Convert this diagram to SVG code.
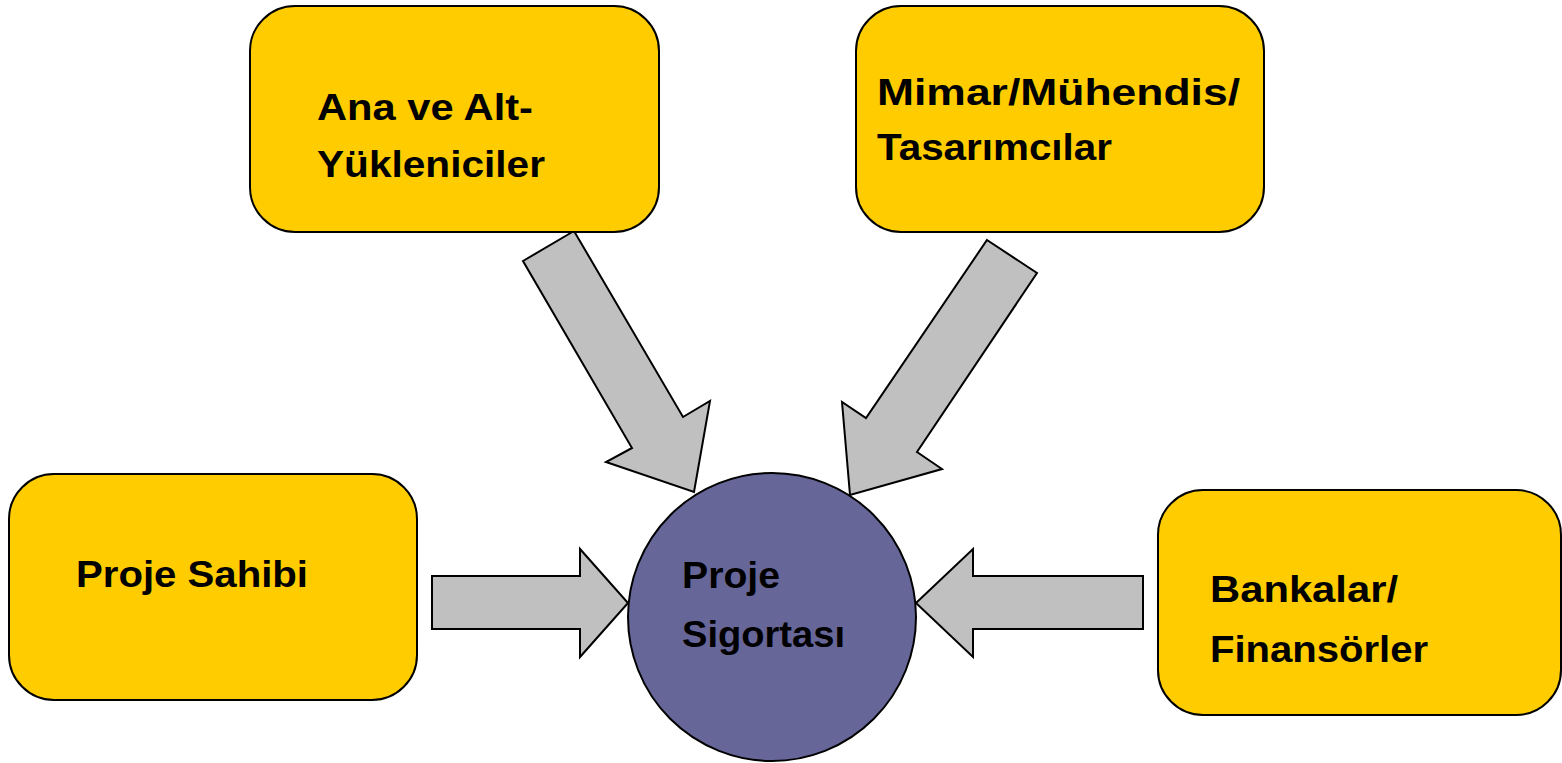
<svg xmlns="http://www.w3.org/2000/svg" width="1562" height="763" viewBox="0 0 1562 763">
<style>
.box{fill:#FFCC00;stroke:#000;stroke-width:2}
.arrow{fill:#C0C0C0;stroke:#000;stroke-width:2;stroke-linejoin:miter}
.lbl{font-family:"Liberation Sans",Arial,sans-serif;font-weight:bold;font-size:37px;fill:#000}
</style>
<rect width="1562" height="763" fill="#fff"/>
<g id="connectors">
<polygon class="arrow" points="574,231 523,261 632,448 606,462 694,492 710,401 683,417"/>
<polygon class="arrow" points="987,240 1037,273 917,452 942,469 850,495 842,402 866,418"/>
<polygon class="arrow" points="432,576 580,576 580,549 628,603 580,657 580,629 432,629"/>
<polygon class="arrow" points="1143,576 973,576 973,549 916,603 973,657 973,629 1143,629"/>
</g>
<g id="node-ana">
<rect class="box" x="250" y="6" width="409" height="226" rx="45"/>
<text class="lbl" x="317" y="120" textLength="216" lengthAdjust="spacingAndGlyphs">Ana ve Alt-</text>
<text class="lbl" x="317" y="177" textLength="228" lengthAdjust="spacingAndGlyphs">Yükleniciler</text>
</g>
<g id="node-mimar">
<rect class="box" x="856" y="6" width="408" height="226" rx="45"/>
<text class="lbl" x="877" y="105" textLength="363" lengthAdjust="spacingAndGlyphs">Mimar/Mühendis/</text>
<text class="lbl" x="877" y="160" textLength="235" lengthAdjust="spacingAndGlyphs">Tasarımcılar</text>
</g>
<g id="node-sahibi">
<rect class="box" x="9" y="474" width="408" height="226" rx="45"/>
<text class="lbl" x="76" y="587" textLength="232" lengthAdjust="spacingAndGlyphs">Proje Sahibi</text>
</g>
<g id="node-banka">
<rect class="box" x="1158" y="490" width="403" height="225" rx="45"/>
<text class="lbl" x="1210" y="602" textLength="188" lengthAdjust="spacingAndGlyphs">Bankalar/</text>
<text class="lbl" x="1210" y="662" textLength="218" lengthAdjust="spacingAndGlyphs">Finansörler</text>
</g>
<g id="node-sigorta">
<circle cx="772" cy="617" r="144" fill="#666699" stroke="#000" stroke-width="2"/>
<text class="lbl" x="682" y="588" textLength="98" lengthAdjust="spacingAndGlyphs">Proje</text>
<text class="lbl" x="682" y="647" textLength="163" lengthAdjust="spacingAndGlyphs">Sigortası</text>
</g>
</svg>
